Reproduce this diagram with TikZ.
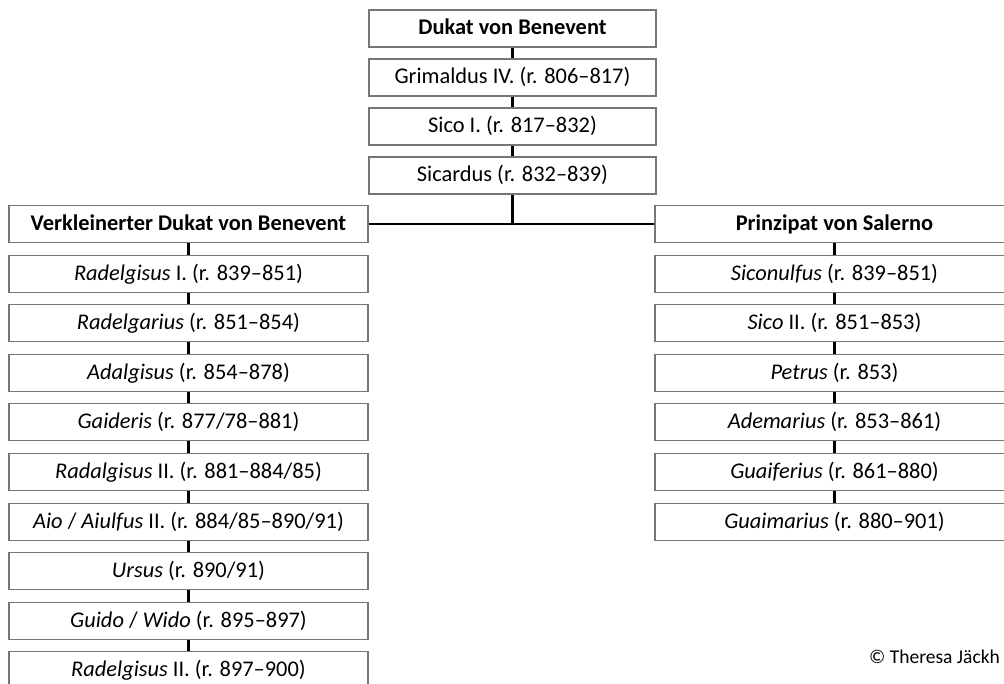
\documentclass[tikz,border=0pt]{standalone}
\usepackage{fontspec}
\setmainfont{Carlito}
\definecolor{boxgray}{RGB}{118,118,118}
\begin{document}
\begin{tikzpicture}[x=1pt,y=-1pt,
  ebox/.style={draw=boxgray, line width=1.1pt, inner sep=0pt, minimum height=37pt,
    text height=15pt, text depth=2pt,
    font=\fontsize{22.4}{26}\selectfont, fill=white},
  topbox/.style={ebox, minimum width=287pt},
  sidebox/.style={ebox, minimum width=359pt},
  conn/.style={draw=black, line width=2.6pt}]
\clip (0,0) rectangle (1004,684);
\fill[white] (0,0) rectangle (1004,684);
% top chain
\node[topbox] (t0) at (512.5,28.5) {\textbf{Dukat von Benevent}};
\node[topbox] (t1) at (512.5,77.5) {Grimaldus IV. (r. 806–817)};
\node[topbox] (t2) at (512.5,126.5) {Sico I. (r. 817–832)};
\node[topbox] (t3) at (512.5,175.5) {Sicardus (r. 832–839)};
% left chain
\node[sidebox] (l0) at (188.5,224) {\textbf{Verkleinerter Dukat von Benevent}};
\node[sidebox] (l1) at (188.5,273.6) {\textit{Radelgisus} I. (r. 839–851)};
\node[sidebox] (l2) at (188.5,323.2) {\textit{Radelgarius} (r. 851–854)};
\node[sidebox] (l3) at (188.5,372.8) {\textit{Adalgisus} (r. 854–878)};
\node[sidebox] (l4) at (188.5,422.4) {\textit{Gaideris} (r. 877/78–881)};
\node[sidebox] (l5) at (188.5,472.0) {\textit{Radalgisus} II. (r. 881–884/85)};
\node[sidebox] (l6) at (188.5,521.6) {\textit{Aio} / \textit{Aiulfus} II. (r. 884/85–890/91)};
\node[sidebox] (l7) at (188.5,571.2) {\textit{Ursus} (r. 890/91)};
\node[sidebox] (l8) at (188.5,620.8) {\textit{Guido} / \textit{Wido} (r. 895–897)};
\node[sidebox] (l9) at (188.5,670.4) {\textit{Radelgisus} II. (r. 897–900)};
% right chain
\node[sidebox] (r0) at (834.5,224) {\textbf{Prinzipat von Salerno}};
\node[sidebox] (r1) at (834.5,273.6) {\textit{Siconulfus} (r. 839–851)};
\node[sidebox] (r2) at (834.5,323.2) {\textit{Sico} II. (r. 851–853)};
\node[sidebox] (r3) at (834.5,372.8) {\textit{Petrus} (r. 853)};
\node[sidebox] (r4) at (834.5,422.4) {\textit{Ademarius} (r. 853–861)};
\node[sidebox] (r5) at (834.5,472.0) {\textit{Guaiferius} (r. 861–880)};
\node[sidebox] (r6) at (834.5,521.6) {\textit{Guaimarius} (r. 880–901)};
% connectors
\foreach \a/\b in {t0/t1,t1/t2,t2/t3,
  l0/l1,l1/l2,l2/l3,l3/l4,l4/l5,l5/l6,l6/l7,l7/l8,l8/l9,
  r0/r1,r1/r2,r2/r3,r3/r4,r4/r5,r5/r6}
  \draw[conn] (\a.south) -- (\b.north);
\coordinate (jn) at (t3.south |- l0.east);
\draw[conn] (t3.south) -- (jn);
\draw[conn] (l0.east) -- (r0.west);
% copyright
\node[anchor=base west, inner sep=0pt, font=\fontsize{19.5}{23}\selectfont] (copy) at (869,663) {© Theresa Jäckh};
\end{tikzpicture}
\end{document}
